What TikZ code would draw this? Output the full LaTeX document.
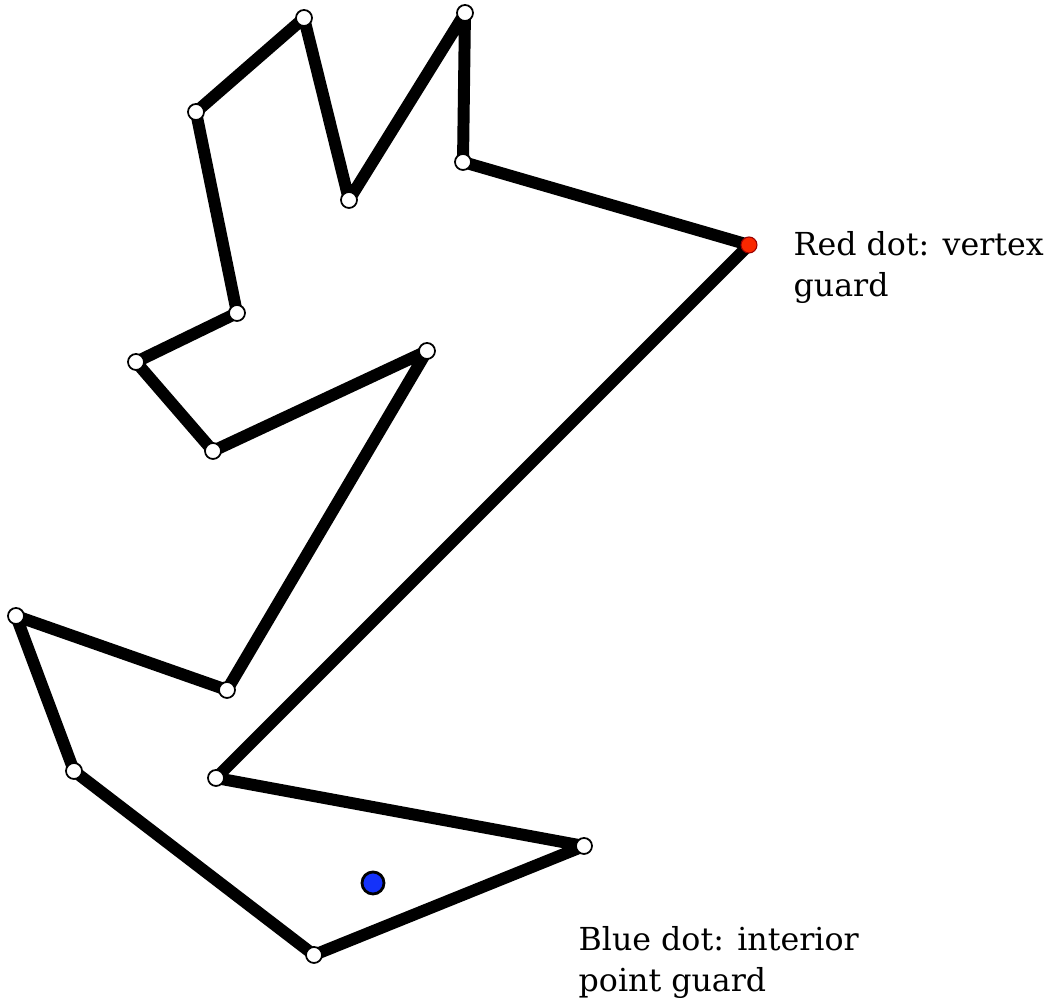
\documentclass[tikz,border=0pt]{standalone}
\usepackage{fontspec}
\setmainfont{DejaVu Serif}
\usetikzlibrary{positioning}
\definecolor{guardred}{RGB}{250,40,0}
\definecolor{guardblue}{RGB}{20,50,250}

\begin{document}
\begin{tikzpicture}[
        x=0.01cm, y=-0.01cm,
        wall/.style={draw, line width=3.4pt, line join=bevel},
        corner/.style={draw, circle, fill=white, line width=0.5pt, inner sep=0pt, minimum size=0.16cm},
        reddot/.style={draw=red!60!black, circle, fill=guardred, line width=0.3pt, inner sep=0pt, minimum size=0.16cm},
        bluedot/.style={draw, circle, fill=guardblue, line width=0.8pt, inner sep=0pt, minimum size=0.22cm},
        note/.style={align=left, anchor=base west, inner sep=0pt, font=\fontsize{9}{11.7}\selectfont}
    ]
        \useasboundingbox (0,0) rectangle (1047,1001);

        % Polygon corners
        \coordinate (v1) at (465,13);
        \coordinate (v2) at (463,162);
        \coordinate (v3) at (749,245);
        \coordinate (v4) at (216,778);
        \coordinate (v5) at (584,846);
        \coordinate (v6) at (314,955);
        \coordinate (v7) at (74,771);
        \coordinate (v8) at (16,616);
        \coordinate (v9) at (227,690);
        \coordinate (v10) at (427,351);
        \coordinate (v11) at (213,451);
        \coordinate (v12) at (136,362);
        \coordinate (v13) at (237,313);
        \coordinate (v14) at (196,112);
        \coordinate (v15) at (304,18);
        \coordinate (v16) at (349,200);

        % Boundary
        \draw [wall] (v1) -- (v2) -- (v3) -- (v4) -- (v5) -- (v6) -- (v7) -- (v8)
            -- (v9) -- (v10) -- (v11) -- (v12) -- (v13) -- (v14) -- (v15) -- (v16) -- cycle;

        % Vertices
        \foreach \i in {1,2,4,5,6,7,8,9,10,11,12,13,14,15,16}
            \node [corner] (c\i) at (v\i) {};

        % Guards
        \node [reddot] (vguard) at (v3) {};
        \node [bluedot] (pguard) at (373,883) {};

        % Labels (anchored at the last line)
        \node [note] (vtext) at (793,297) {Red dot: vertex\\guard};
        \node [note] (ptext) at (578,992) {Blue dot: interior\\point guard};

    \end{tikzpicture}
\end{document}
